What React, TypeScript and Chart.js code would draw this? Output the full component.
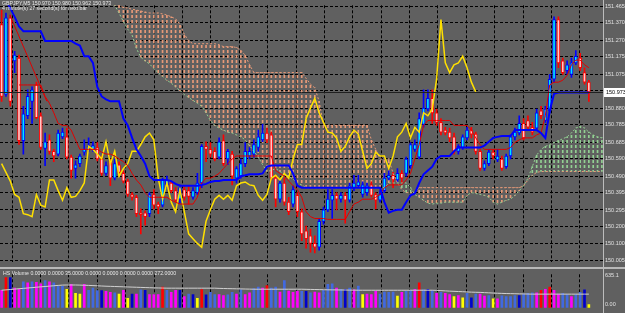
import React, { useEffect, useRef } from "react";
import { Chart, registerables } from "chart.js";
Chart.register(...registerables);

const BG = "#606060";

const headerLine1 = "GBPJPY,M5 150.970 150.980 150.962 150.973";
const headerLine2 = "4 minute(s) 27 second(s) for next bar";
const volHeader = "HS Volume 0.0000 0.0000 35.0000 0.0000 0.0000 0.0000 0.0000 272.0000";
const bidPrice = 150.973;
const bidLabel = "150.973";

const priceTickLabels = ["151.465","151.370","151.270","151.175","151.075","150.980","150.880","150.785","150.685","150.590","150.490","150.395","150.295","150.200","150.100","150.005"];
const volTickLabels = ["635.1", "0.00"];
const volTickValues = [635.1, 60];

const openP = [151.360,150.958,151.399,151.151,151.167,150.693,150.836,150.919,151.013,150.836,
150.649,150.698,150.632,150.616,150.715,150.715,150.599,150.533,150.561,150.627,
150.643,150.643,150.654,150.588,150.505,150.577,150.478,150.555,150.505,150.461,
150.384,150.368,150.279,150.279,150.274,150.384,150.329,150.323,150.439,150.450,
150.406,150.357,150.412,150.406,150.368,150.395,150.450,150.660,150.643,150.632,
150.599,150.693,150.588,150.616,150.478,150.489,150.561,150.605,150.616,150.654,
150.698,150.737,150.726,150.478,150.357,150.450,150.340,150.329,150.379,150.285,
150.175,150.147,150.103,150.081,150.230,150.296,150.351,150.379,150.357,150.379,
150.351,150.423,150.434,150.384,150.395,150.439,150.384,150.351,150.406,150.478,
150.494,150.467,150.505,150.505,150.550,150.643,150.599,150.787,150.875,150.936,
150.853,150.798,150.754,150.742,150.715,150.632,150.654,150.709,150.754,150.731,
150.632,150.533,150.561,150.627,150.583,150.588,150.544,150.605,150.715,150.737,
150.792,150.809,150.770,150.765,150.864,150.809,150.864,151.046,151.388,151.151,
151.095,151.073,151.140,151.167,151.084,151.029];
const highP = [151.443,151.426,151.415,151.206,151.184,150.891,150.985,151.002,151.029,150.853,
150.737,150.726,150.643,150.754,150.765,150.765,150.610,150.577,150.616,150.698,
150.709,150.687,150.682,150.605,150.572,150.588,150.588,150.572,150.522,150.472,
150.395,150.379,150.301,150.290,150.395,150.412,150.340,150.478,150.489,150.461,
150.423,150.439,150.434,150.434,150.423,150.505,150.671,150.687,150.682,150.654,
150.709,150.726,150.643,150.632,150.544,150.588,150.682,150.654,150.698,150.754,
150.787,150.765,150.742,150.494,150.467,150.478,150.368,150.434,150.395,150.301,
150.202,150.186,150.147,150.246,150.312,150.412,150.412,150.395,150.395,150.395,
150.450,150.494,150.494,150.456,150.450,150.456,150.395,150.406,150.505,150.522,
150.511,150.533,150.522,150.599,150.682,150.698,150.853,150.985,150.985,150.985,
150.875,150.820,150.770,150.765,150.737,150.671,150.726,150.770,150.770,150.742,
150.643,150.577,150.643,150.643,150.643,150.605,150.616,150.726,150.765,150.836,
150.820,150.836,150.798,150.875,150.891,150.891,151.073,151.404,151.404,151.167,
151.151,151.167,151.211,151.195,151.112,151.040];
const lowP = [150.919,150.947,150.891,151.084,150.671,150.616,150.820,150.792,150.820,150.643,
150.550,150.616,150.572,150.605,150.704,150.588,150.478,150.478,150.544,150.610,
150.632,150.632,150.577,150.494,150.494,150.434,150.467,150.489,150.450,150.373,
150.351,150.257,150.158,150.208,150.257,150.301,150.274,150.312,150.423,150.395,
150.340,150.334,150.351,150.329,150.357,150.384,150.423,150.572,150.599,150.577,
150.588,150.550,150.555,150.439,150.450,150.478,150.544,150.588,150.599,150.632,
150.687,150.682,150.467,150.312,150.340,150.323,150.268,150.312,150.257,150.119,
150.075,150.053,150.048,150.064,150.213,150.285,150.246,150.296,150.340,150.219,
150.340,150.406,150.423,150.368,150.379,150.368,150.301,150.340,150.395,150.467,
150.423,150.456,150.450,150.489,150.533,150.632,150.588,150.770,150.864,150.792,
150.781,150.726,150.726,150.687,150.616,150.616,150.643,150.698,150.709,150.616,
150.522,150.522,150.550,150.588,150.572,150.522,150.533,150.588,150.698,150.726,
150.698,150.754,150.726,150.754,150.820,150.798,150.853,151.029,151.112,151.073,
151.073,151.057,151.129,151.095,151.018,150.919];
const closeP = [150.947,151.399,150.919,151.184,150.693,150.847,150.947,150.985,150.825,150.654,
150.687,150.632,150.605,150.737,150.742,150.599,150.522,150.555,150.605,150.643,
150.660,150.665,150.588,150.505,150.550,150.478,150.561,150.511,150.461,150.384,
150.368,150.274,150.268,150.257,150.384,150.323,150.312,150.467,150.467,150.406,
150.351,150.423,150.368,150.373,150.406,150.450,150.660,150.643,150.616,150.588,
150.687,150.561,150.632,150.489,150.533,150.561,150.632,150.632,150.671,150.715,
150.737,150.698,150.478,150.357,150.450,150.340,150.285,150.412,150.285,150.158,
150.130,150.103,150.081,150.230,150.296,150.357,150.379,150.357,150.379,150.351,
150.434,150.450,150.456,150.439,150.434,150.379,150.351,150.384,150.478,150.494,
150.467,150.505,150.478,150.588,150.671,150.671,150.820,150.880,150.936,150.853,
150.798,150.742,150.737,150.709,150.632,150.660,150.715,150.754,150.731,150.632,
150.533,150.561,150.627,150.605,150.605,150.533,150.605,150.715,150.742,150.792,
150.709,150.770,150.742,150.853,150.836,150.875,151.046,151.388,151.140,151.084,
151.129,151.140,151.178,151.112,151.029,150.973];

const tenkan = [null,null,null,null,151.013,151.013,151.013,151.013,151.013,151.013,
150.947,150.908,150.853,150.792,150.781,150.781,150.754,150.698,150.643,150.643,
150.643,150.643,150.643,150.627,150.616,150.616,150.605,150.588,150.572,150.550,
150.505,150.467,150.439,150.395,150.368,150.368,150.368,150.368,150.368,150.351,
150.340,150.329,150.329,150.329,150.329,150.368,150.450,150.478,150.478,150.489,
150.505,150.533,150.561,150.588,150.605,150.605,150.605,150.605,150.605,150.605,
150.605,150.605,150.605,150.522,150.505,150.489,150.461,150.434,150.412,150.368,
150.285,150.257,150.246,150.246,150.246,150.241,150.241,150.241,150.241,150.241,
150.285,150.329,150.340,150.357,150.357,150.357,150.368,150.384,150.423,150.439,
150.439,150.439,150.439,150.467,150.505,150.588,150.671,150.781,150.809,150.809,
150.809,150.809,150.809,150.809,150.781,150.781,150.781,150.781,150.754,150.709,
150.671,150.643,150.643,150.643,150.643,150.643,150.643,150.654,150.682,150.698,
150.709,150.709,150.709,150.726,150.737,150.836,151.013,151.029,151.029,151.040,
151.068,151.129,151.156,151.156,151.129,151.112];
const kijun = [151.526,151.498,151.454,151.404,151.349,151.322,151.322,151.322,151.322,151.322,
151.266,151.266,151.266,151.266,151.266,151.266,151.266,151.250,151.239,151.178,
151.178,151.140,151.002,150.947,150.930,150.919,150.919,150.919,150.820,150.781,
150.709,150.643,150.605,150.561,150.489,150.467,150.467,150.467,150.467,150.461,
150.445,150.434,150.434,150.434,150.434,150.434,150.439,150.445,150.456,150.461,
150.461,150.467,150.467,150.467,150.467,150.489,150.494,150.500,150.500,150.500,
150.505,150.544,150.550,150.550,150.550,150.550,150.550,150.505,150.434,150.423,
150.423,150.423,150.423,150.423,150.423,150.423,150.423,150.423,150.423,150.423,
150.423,150.423,150.423,150.423,150.423,150.423,150.423,150.423,150.340,150.279,
150.290,150.296,150.296,150.340,150.379,150.390,150.450,150.500,150.522,150.544,
150.588,150.605,150.605,150.605,150.632,150.654,150.654,150.654,150.654,150.654,
150.654,150.665,150.687,150.709,150.715,150.720,150.720,150.720,150.754,150.754,
150.754,150.754,150.754,150.754,150.737,150.709,150.864,150.963,150.969,150.969,
150.969,150.969,150.969,150.969,150.969,150.969];
const chikou = [150.561,150.511,150.461,150.384,150.368,150.274,150.268,150.257,150.384,150.323,
150.312,150.467,150.467,150.406,150.351,150.423,150.368,150.373,150.406,150.450,
150.660,150.643,150.616,150.588,150.687,150.561,150.632,150.489,150.533,150.561,
150.632,150.632,150.671,150.715,150.737,150.698,150.478,150.357,150.450,150.340,
150.285,150.412,150.285,150.158,150.130,150.103,150.081,150.230,150.296,150.357,
150.379,150.357,150.379,150.351,150.434,150.450,150.456,150.439,150.434,150.379,
150.351,150.384,150.478,150.494,150.467,150.505,150.478,150.588,150.671,150.671,
150.820,150.880,150.936,150.853,150.798,150.742,150.737,150.709,150.632,150.660,
150.715,150.754,150.731,150.632,150.533,150.561,150.627,150.605,150.605,150.533,
150.605,150.715,150.742,150.792,150.709,150.770,150.742,150.853,150.836,150.875,
151.046,151.388,151.140,151.084,151.129,151.140,151.178,151.112,151.029,150.973];
const senkouB = [null,null,null,null,null,null,null,null,null,null,
null,null,null,null,null,null,null,null,null,null,null,null,null,null,
151.553,151.498,151.471,151.471,151.459,151.454,151.448,151.443,151.437,151.432,
151.426,151.426,151.426,151.421,151.415,151.404,151.393,151.360,151.305,151.266,
151.250,151.250,151.250,151.250,151.250,151.250,151.244,151.233,151.233,151.233,
151.228,151.211,151.184,151.129,151.084,151.084,151.084,151.084,151.084,151.084,
151.084,151.084,151.084,151.084,151.084,151.084,151.051,151.018,150.996,150.919,
150.781,150.781,150.781,150.781,150.781,150.781,150.781,150.781,150.781,150.781,
150.781,150.698,150.643,150.588,150.588,150.588,150.505,150.450,150.412,150.395,
150.395,150.395,150.423,150.423,150.423,150.423,150.423,150.423,150.423,150.423,
150.423,150.423,150.423,150.423,150.423,150.423,150.423,150.423,150.423,150.423,
150.423,150.423,150.423,150.423,150.423,150.423,150.434,150.467,150.494,150.511,
150.516,150.516,150.516,150.516,150.516,150.516,150.516,150.516,150.516,150.516,
150.516,150.516,150.516,150.516,150.516];
const senkouA = [null,null,null,null,null,null,null,null,null,null,
null,null,null,null,null,null,null,null,null,null,null,null,null,null,
151.526,151.487,151.471,151.426,151.377,151.333,151.300,151.222,151.173,151.151,
151.134,151.107,151.084,151.062,151.040,151.024,151.002,150.980,150.958,150.941,
150.924,150.908,150.891,150.853,150.809,150.781,150.765,150.754,150.742,150.737,
150.726,150.715,150.698,150.665,150.632,150.599,150.555,150.516,150.522,150.533,
150.516,150.500,150.489,150.472,150.450,150.439,150.423,150.423,150.423,150.423,
150.423,150.423,150.423,150.423,150.423,150.423,150.423,150.423,150.423,150.423,
150.423,150.423,150.423,150.423,150.423,150.450,150.450,150.450,150.450,150.450,
150.423,150.384,150.368,150.351,150.334,150.329,150.334,150.334,150.340,150.340,
150.340,150.340,150.340,150.379,150.395,150.390,150.384,150.379,150.368,150.340,
150.329,150.340,150.351,150.357,150.379,150.406,150.434,150.478,150.544,150.610,
150.643,150.660,150.671,150.682,150.693,150.704,150.715,150.737,150.765,150.776,
150.765,150.742,150.726,150.715,150.709];
const diagBars = [1.9, 10.4];
const diagPrices = [151.415, 150.919];

const volumes = [348,600,600,389,368,517,495,517,505,474,
539,517,495,432,425,368,466,284,270,466,
348,389,340,340,326,305,297,270,348,187,
270,270,355,348,263,263,263,410,348,305,
348,348,220,270,263,187,360,255,305,263,
263,242,255,305,270,355,263,297,380,410,
389,440,389,410,312,539,333,305,333,326,
326,297,312,297,348,466,474,389,368,368,
389,355,432,263,270,263,333,270,312,305,
312,230,305,326,348,368,495,355,368,340,
284,305,284,263,220,242,199,284,199,270,
270,230,242,178,178,234,220,220,242,242,
270,284,297,297,348,368,410,348,270,284,
263,220,263,305,355,60];
const volColorCodes = "MDBMMRMRMM" + "RMRRRYMYYM" + "RRRBMMRYMY" + "BMRBMMMDRM" + "MBMRBYDBRR" +
  "MMRRMRMMRR" + "MDRRMRMMMR" + "BRMMRRRMRB" + "RMRYMMMRRR" + "RYMRRMDRBR" +
  "MRMMYMYRBR" + "MMRYMRRRRB" + "RRRMDMDMMR" + "RMRRBY";
const volMA = [348,355,362,370,378,385,392,400,408,415,
422,430,437,444,450,452,452,452,450,447,
444,440,436,432,428,425,422,419,416,413,
410,407,404,401,398,395,393,391,389,389,
389,389,389,389,389,389,389,389,389,389,
385,382,380,378,376,374,372,370,368,368,
368,368,368,368,368,368,368,368,368,368,
366,364,362,360,358,356,355,354,353,352,
350,350,348,348,348,348,348,348,348,348,
348,348,348,348,348,348,348,348,348,348,
345,340,335,330,326,322,318,314,310,307,
305,300,296,292,288,285,282,280,278,276,
274,272,270,270,270,270,270,270,270,270,
270,270,270,270,270,270];

const BAR_X0 = 1.6;
const BAR_DX = 4.35;
const PLOT_RIGHT = 603;
const GRID_X0 = 12;
const GRID_DX = 28.4;

function pxToBar(px: number) { return (px - BAR_X0) / BAR_DX; }
const xMin = pxToBar(0);
const xMax = pxToBar(PLOT_RIGHT);
const vGrid: number[] = [];
for (let p = GRID_X0; p < PLOT_RIGHT; p += GRID_DX) vGrid.push(pxToBar(p));

function dots(color: string) {
  const c = document.createElement("canvas");
  c.width = 1; c.height = 5;
  const g = c.getContext("2d")!;
  g.fillStyle = color; g.fillRect(0, 0, 1, 3);
  return g.createPattern(c, "repeat")!;
}

const FONT = "Liberation Sans";

export default function App() {
  const mainRef = useRef<HTMLCanvasElement>(null);
  const volRef = useRef<HTMLCanvasElement>(null);
  useEffect(() => {
    document.body.style.margin = "0";
    document.body.style.background = BG;
    const orangeDots = dots("#e89a78");
    const greenDots = dots("#92d092");
    const up = closeP.map((c, i) => c >= openP[i]);
    const hatch: any[] = [];
    const hatchColors: any[] = [];
    senkouA.forEach((a, i) => {
      const b = senkouB[i];
      if (a == null || b == null) return;
      hatch.push({ x: i, y: [a, b] });
      hatchColors.push(a >= b ? greenDots : orangeDots);
    });
    const xScale = (grid: boolean) => ({
      type: "linear", min: xMin, max: xMax, offset: false,
      ticks: { display: false },
      grid: { display: grid, color: "#000", lineWidth: 1, drawTicks: false, offset: false },
      border: { display: false, dash: [3, 2] },
      afterBuildTicks: (s: any) => { s.ticks = vGrid.map((v) => ({ value: v })); },
    });
    const overlay = {
      id: "overlay",
      afterDraw(chart: any) {
        const { ctx, chartArea, scales } = chart;
        ctx.save();
        const yb = Math.round(scales.y.getPixelForValue(bidPrice)) + 0.5;
        ctx.strokeStyle = "#202020"; ctx.lineWidth = 1;
        ctx.beginPath(); ctx.moveTo(0, yb); ctx.lineTo(chartArea.right, yb); ctx.stroke();
        ctx.strokeStyle = "#bcbcbc";
        ctx.beginPath(); ctx.moveTo(chartArea.right + 0.5, 0); ctx.lineTo(chartArea.right + 0.5, chart.height); ctx.stroke();
        ctx.fillStyle = "#ffffff";
        ctx.fillRect(chartArea.right + 1, yb - 4.5, 22, 9);
        ctx.fillStyle = "#000";
        ctx.font = `5.5px "${FONT}"`;
        ctx.textBaseline = "middle";
        ctx.fillText(bidLabel, chartArea.right + 3, yb);
        ctx.fillStyle = "#e8e8e8";
        ctx.font = `5.2px "${FONT}"`;
        ctx.fillText(headerLine1, 2, 3.5);
        ctx.fillText(headerLine2, 2, 9);
        ctx.restore();
      },
    };
    const main = new Chart(mainRef.current!, {
      type: "bar",
      data: {
        datasets: [
          { type: "bar", data: hatch, backgroundColor: hatchColors, barThickness: 1, grouped: false, order: 10 } as any,
          { type: "bar", data: lowP.map((l, i) => ({ x: i, y: [l, highP[i]] })), backgroundColor: up.map((u) => (u ? "#0000ff" : "#ff0000")), barThickness: 1, grouped: false, order: 8 },
          { type: "bar", data: openP.map((o, i) => ({ x: i, y: [o, closeP[i]] })), backgroundColor: up.map((u) => (u ? "#00e8ff" : "#ffc8c8")), borderColor: up.map((u) => (u ? "#0000ff" : "#ff0000")), borderWidth: 1, borderSkipped: false, barThickness: 3, grouped: false, order: 7 },
          { type: "line", data: senkouB.map((v, i) => ({ x: i, y: v })), borderColor: "#e89a78", borderWidth: 1, borderDash: [2, 2], pointRadius: 0, order: 6 },
          { type: "line", data: senkouA.map((v, i) => ({ x: i, y: v })), borderColor: "#92d092", borderWidth: 1, borderDash: [2, 2], pointRadius: 0, order: 6 },
          { type: "line", data: chikou.map((v, i) => ({ x: i, y: v })), borderColor: "#ffe000", borderWidth: 1.5, pointRadius: 0, order: 5 },
          { type: "line", data: diagBars.map((b, i) => ({ x: b, y: diagPrices[i] })), borderColor: "#e00000", borderWidth: 1, pointRadius: 0, order: 4 },
          { type: "line", data: tenkan.map((v, i) => ({ x: i, y: v })), borderColor: "#e00000", borderWidth: 1, pointRadius: 0, order: 4 },
          { type: "line", data: kijun.map((v, i) => ({ x: i, y: v })), borderColor: "#0000ff", borderWidth: 2, pointRadius: 0, order: 3 },
        ],
      },
      options: {
        animation: false, responsive: false, devicePixelRatio: 1,
        layout: { padding: 0 },
        plugins: { legend: { display: false }, tooltip: { enabled: false } },
        scales: {
          x: xScale(true) as any,
          y: {
            position: "right", min: 149.998, max: 151.4705,
            afterFit: (s: any) => { s.width = 22; },
            afterBuildTicks: (s: any) => { s.ticks = priceTickLabels.map((l) => ({ value: parseFloat(l) })); },
            ticks: { color: "#e0e0e0", padding: 2, font: { size: 5.5, family: FONT }, callback: (_v: any, i: number) => priceTickLabels[i] },
            grid: { color: "#000", drawTicks: false },
            border: { display: false, dash: [3, 2] },
          } as any,
        },
      },
      plugins: [overlay],
    });
    const colorMap: Record<string, string> = { R: "#4169e1", M: "#ff00ff", Y: "#ffff00", D: "#ff0000", B: "#0000cd" };
    const volOverlay = {
      id: "volOverlay",
      afterDraw(chart: any) {
        const { ctx, chartArea } = chart;
        ctx.save();
        ctx.strokeStyle = "#bcbcbc"; ctx.lineWidth = 1;
        ctx.beginPath(); ctx.moveTo(chartArea.right + 0.5, 0); ctx.lineTo(chartArea.right + 0.5, chart.height); ctx.stroke();
        ctx.fillStyle = "#e8e8e8";
        ctx.font = `5.2px "${FONT}"`;
        ctx.textBaseline = "middle";
        ctx.fillText(volHeader, 3, 5);
        ctx.restore();
      },
    };
    const vol = new Chart(volRef.current!, {
      type: "bar",
      data: {
        datasets: [
          { type: "line", data: volMA.map((v, i) => ({ x: i, y: v })), borderColor: "#d0d0d0", borderWidth: 1, pointRadius: 0, order: 1 },
          { type: "bar", data: volumes.map((v, i) => ({ x: i, y: v })), backgroundColor: volumes.map((_v, i) => colorMap[volColorCodes[i]]), barThickness: 2, grouped: false, order: 2 },
        ],
      },
      options: {
        animation: false, responsive: false, devicePixelRatio: 1,
        layout: { padding: 0 },
        plugins: { legend: { display: false }, tooltip: { enabled: false } },
        scales: {
          x: xScale(true) as any,
          y: {
            position: "right", min: 0, max: 665,
            afterFit: (s: any) => { s.width = 22; },
            afterBuildTicks: (s: any) => { s.ticks = volTickValues.map((v) => ({ value: v })); },
            ticks: { color: "#e0e0e0", padding: 2, font: { size: 5.5, family: FONT }, callback: (_v: any, i: number) => volTickLabels[i] },
            grid: { display: false, drawTicks: false },
            border: { display: false },
          } as any,
        },
      },
      plugins: [volOverlay],
    });
    return () => { main.destroy(); vol.destroy(); };
  }, []);
  return (
    <div style={{ position: "relative", width: 625, height: 313, background: BG, overflow: "hidden" }}>
      <canvas ref={mainRef} width={625} height={267} style={{ position: "absolute", left: 0, top: 0 }} />
      <div style={{ position: "absolute", left: 0, top: 267, width: 625, height: 2, background: "#b8b8b8" }} />
      <canvas ref={volRef} width={625} height={44} style={{ position: "absolute", left: 0, top: 269 }} />
    </div>
  );
}
